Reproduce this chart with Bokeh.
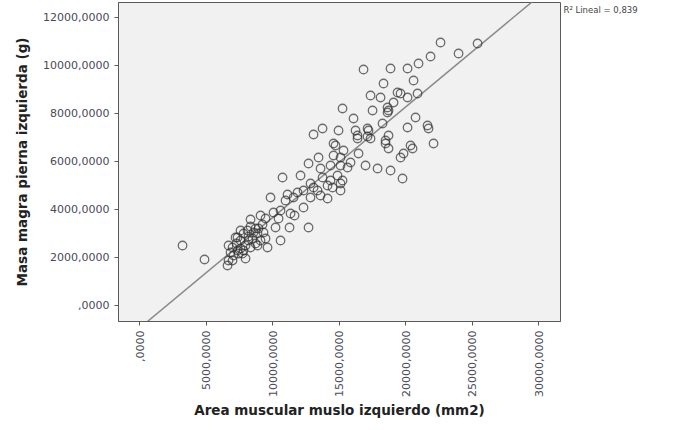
import math
from bokeh.plotting import figure
from bokeh.models import FixedTicker, Range1d, LinearAxis
from bokeh.embed import file_html
from bokeh.resources import INLINE

# Data: (area muscular muslo izquierdo mm2, masa magra pierna izquierda g)
area_mm2 = [
    3233, 4887, 6617, 6692, 6692, 6993, 6993, 7218, 7369, 7369,
    7594, 7745, 7820, 7820, 7444, 8120, 8196, 8346, 8572, 8722,
    8872, 8948, 9098, 9324, 9474, 9624, 8872, 8346, 9098, 9474,
    9850, 10075, 10226, 10451, 10602, 10602, 10977, 11278, 11354, 11654,
    11128, 11579, 11880, 12331, 12857, 13384, 13609, 14136, 14512, 14361,
    14887, 15113, 15113, 15639, 15113, 14587, 14361, 13609, 12707, 12707,
    13083, 13459, 10752, 12105, 13760, 12857, 12331, 13083, 14136, 15263,
    15865, 15338, 14737, 16391, 17143, 16466, 16992, 17895, 18872, 19774,
    18496, 15113, 7068, 7293, 7594, 7970, 8196, 8496, 8722, 7970,
    6842, 8346, 9248, 7594,
    13760, 14962, 16241, 17218, 16391, 17368, 14587, 15263, 16090, 16842,
    18872, 20150, 20977, 18346, 20602, 17368, 18120, 19398, 20150, 20902,
    19098, 18722, 17519, 18271, 20752, 20150, 21654, 18496, 18722, 20376,
    22632, 25414, 23985, 21880, 19624, 18647, 18647, 21729, 17143, 18722,
    22105, 20526, 19850, 19624,
]
masa_g = [
    2500, 1917, 1667, 1875, 2500, 2417, 1875, 2833, 2292, 2833,
    2375, 2167, 3000, 2292, 2167, 3125, 2708, 2417, 3042, 2583,
    3000, 3208, 2708, 3042, 2792, 2417, 2500, 3583, 3750, 3625,
    4500, 3875, 3250, 3625, 3958, 2708, 4375, 3250, 3833, 3750,
    4625, 4500, 4708, 4792, 5083, 4792, 4583, 4458, 4917, 5208,
    5417, 5083, 4792, 5750, 6167, 6250, 5833, 5708, 3250, 5917,
    7125, 6167, 5333, 5417, 5333, 4500, 4083, 4917, 5000, 5208,
    5958, 6458, 6667, 7083, 7042, 6333, 5833, 5708, 5625, 5292,
    6750, 5833, 2083, 2583, 2708, 2500, 2875, 2792, 3208, 1958,
    2208, 3292, 3375, 3125,
    7375, 7292, 7292, 7292, 6958, 6958, 6750, 8208, 7792, 9833,
    9875, 9875, 10083, 9250, 9375, 8750, 8667, 8875, 8667, 8833,
    8458, 8125, 8125, 7583, 7833, 7417, 7500, 6875, 7083, 6667,
    10958, 10917, 10500, 10375, 8833, 8250, 8042, 7375, 7375, 6542,
    6750, 6542, 6333, 6167,
]

# Linear fit shown in the chart
fit_intercept = -943.0
fit_slope = 0.4606
r2_text = "R² Lineal = 0,839"
r2_text_y = 12292

x_ticks = [0, 5000, 10000, 15000, 20000, 25000, 30000]
x_tick_labels = [",0000", "5000,0000", "10000,0000", "15000,0000",
                 "20000,0000", "25000,0000", "30000,0000"]
y_ticks = [0, 2000, 4000, 6000, 8000, 10000, 12000]
y_tick_labels = [",0000", "2000,0000", "4000,0000", "6000,0000",
                 "8000,0000", "10000,0000", "12000,0000"]

x_title = "Area muscular muslo izquierdo (mm2)"
y_title = "Masa magra pierna izquierda (g)"

x_lo, x_hi = -1580, 31650
y_lo, y_hi = -667, 12625

p = figure(width=674, height=430, output_backend="svg", toolbar_location=None,
           x_range=Range1d(x_lo, x_hi), y_range=Range1d(y_lo, y_hi),
           min_border_left=118, min_border_right=114,
           min_border_top=2, min_border_bottom=109)

p.background_fill_color = "#f1f1f1"
p.border_fill_color = "white"
p.outline_line_color = "#5a5a5a"
p.outline_line_width = 1
p.grid.visible = False

font = "DejaVu Sans"
for ax in (p.xaxis[0], p.yaxis[0]):
    ax.axis_line_color = "#5a5a5a"
    ax.major_tick_line_color = "#5a5a5a"
    ax.major_tick_out = 4
    ax.major_tick_in = 0
    ax.minor_tick_line_color = None
    ax.major_label_text_font = font
    ax.major_label_text_font_size = "11px"
    ax.major_label_text_color = "#4a4a5a"
    ax.axis_label_text_font = font
    ax.axis_label_text_font_size = "13.5px"
    ax.axis_label_text_font_style = "bold"
    ax.axis_label_text_color = "#222222"

p.xaxis.ticker = FixedTicker(ticks=x_ticks)
p.xaxis.major_label_overrides = dict(zip(x_ticks, x_tick_labels))
p.xaxis.major_label_orientation = math.pi / 2
p.xaxis.axis_label = x_title
p.xaxis.axis_label_standoff = 2

p.yaxis.ticker = FixedTicker(ticks=y_ticks)
p.yaxis.major_label_overrides = dict(zip(y_ticks, y_tick_labels))
p.yaxis.axis_label = y_title
p.yaxis.axis_label_standoff = 10

# Regression line across the visible x range
fx = [x_lo, x_hi]
fy = [fit_intercept + fit_slope * v for v in fx]
p.line(fx, fy, line_color="#8a8a8a", line_width=1.5)

p.scatter(area_mm2, masa_g, marker="circle", size=8.5, fill_color=None,
          line_color="#333333", line_alpha=0.7, line_width=1.3)

# R² annotation placed just right of the frame (as an axis label)
r2_axis = LinearAxis(ticker=FixedTicker(ticks=[r2_text_y]),
                     major_label_overrides={r2_text_y: r2_text},
                     axis_line_color=None, major_tick_line_color=None,
                     minor_tick_line_color=None, major_tick_out=0,
                     major_tick_in=0, major_label_standoff=3,
                     major_label_text_font=font,
                     major_label_text_font_size="8.5px",
                     major_label_text_color="#444444")
p.add_layout(r2_axis, "right")

open("out.html", "w").write(file_html(p, INLINE))
